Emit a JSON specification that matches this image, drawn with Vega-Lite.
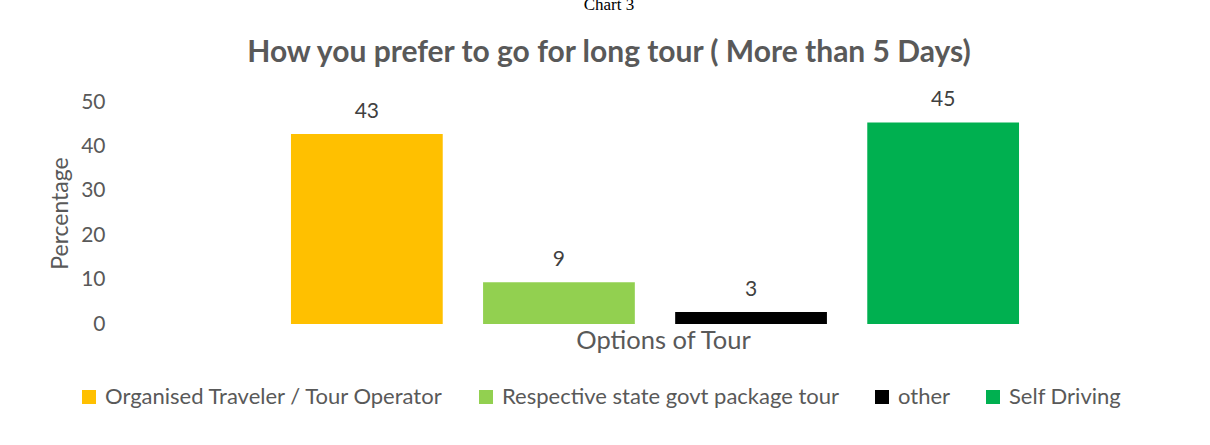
{
  "$schema": "https://vega.github.io/schema/vega-lite/v6.json",
  "width": 1070,
  "height": 222,
  "autosize": {"type": "none"},
  "padding": {"left": 120, "top": 102, "right": 20, "bottom": 121},
  "background": "white",
  "config": {"view": {"stroke": null}},
  "title": {
    "text": "Chart 3",
    "subtitle": "How you prefer to go for long tour ( More than 5 Days)",
    "font": "Liberation Serif",
    "fontSize": 17,
    "fontWeight": "normal",
    "color": "#000000",
    "subtitleFont": "Lato",
    "subtitleFontSize": 30,
    "subtitleFontWeight": "bold",
    "subtitleColor": "#595959",
    "subtitlePadding": 24,
    "anchor": "middle",
    "dx": -46,
    "offset": 20
  },
  "data": {
    "values": [
      {"option": "Organised Traveler / Tour Operator", "value": 42.8},
      {"option": "Respective state govt package tour", "value": 9.4},
      {"option": "other", "value": 2.7},
      {"option": "Self Driving", "value": 45.4}
    ]
  },
  "encoding": {
    "x": {
      "field": "option",
      "type": "nominal",
      "sort": null,
      "scale": {"paddingInner": 0.21, "paddingOuter": 0.89},
      "axis": {
        "labels": false,
        "ticks": false,
        "domain": false,
        "title": "Options of Tour",
        "titleFont": "Lato",
        "titleFontSize": 25.5,
        "titleFontWeight": "normal",
        "titleColor": "#595959",
        "titleX": 543,
        "titlePadding": 4
      }
    },
    "y": {
      "field": "value",
      "type": "quantitative",
      "scale": {"domain": [0, 50]},
      "axis": {
        "values": [0, 10, 20, 30, 40, 50],
        "grid": false,
        "ticks": false,
        "domain": false,
        "labelFont": "Lato",
        "labelFontSize": 21,
        "labelColor": "#595959",
        "labelPadding": 15,
        "title": "Percentage",
        "titleFont": "Lato",
        "titleFontSize": 23,
        "titleFontWeight": "normal",
        "titleColor": "#595959",
        "titlePadding": 8
      }
    }
  },
  "layer": [
    {
      "mark": {"type": "bar"},
      "encoding": {
        "color": {
          "field": "option",
          "type": "nominal",
          "sort": null,
          "scale": {
            "domain": ["Organised Traveler / Tour Operator", "Respective state govt package tour", "other", "Self Driving"],
            "range": ["#FFC000", "#92D050", "#000000", "#00B050"]
          },
          "legend": {
            "title": null,
            "orient": "none",
            "direction": "horizontal",
            "legendX": -42,
            "legendY": 284,
            "padding": 0,
            "symbolType": "square",
            "symbolSize": 196,
            "symbolStrokeWidth": 0,
            "labelFont": "Lato",
            "labelFontSize": 22,
            "labelColor": "#595959",
            "labelOffset": 5,
            "labelLimit": 500,
            "columnPadding": 31
          }
        }
      }
    },
    {
      "mark": {"type": "text", "baseline": "bottom", "dy": -12, "font": "Lato", "fontSize": 21, "color": "#404040"},
      "encoding": {
        "text": {"field": "value", "type": "quantitative", "format": ".0f"}
      }
    }
  ]
}
